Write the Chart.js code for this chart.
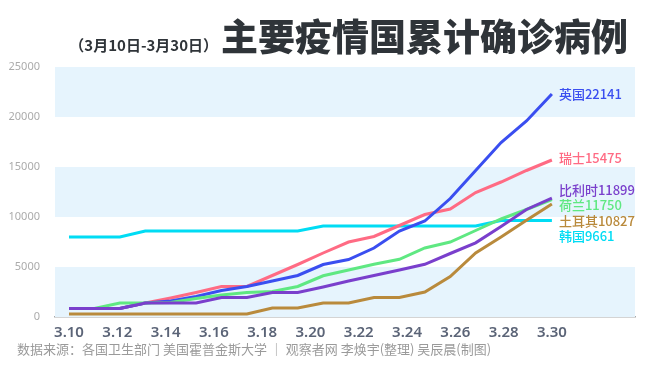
<!DOCTYPE html>
<html><head><meta charset="utf-8">
<script src="https://cdn.jsdelivr.net/npm/chart.js@4/dist/chart.umd.min.js"></script>
<style>
html,body{margin:0;padding:0;background:#fff;}
#wrap{position:relative;width:650px;height:370px;overflow:hidden;font-family:"Noto Sans CJK SC","Noto Sans",sans-serif;}
#c{position:absolute;left:0;top:0;}
#title{position:absolute;left:221px;top:11px;font-size:37px;font-weight:900;color:#2f3439;line-height:48px;white-space:nowrap;}
#sub{position:absolute;right:432px;top:34px;font-size:15px;font-weight:700;color:#2f3439;line-height:22px;white-space:nowrap;}
#src{position:absolute;left:17px;top:340px;font-size:13px;color:#9a9a9a;line-height:18px;white-space:nowrap;}
</style></head><body>
<div id="wrap"><canvas id="c" width="650" height="370"></canvas>
<div id="sub">（3月10日-3月30日）</div>
<div id="title">主要疫情国累计确诊病例</div>
<div id="src">数据来源：各国卫生部门 美国霍普金斯大学 ｜ 观察者网 李焕宇(整理) 吴辰晨(制图)</div>
</div>
<script>
// ---- data ----
const tickLabels = ["3.10","3.12","3.14","3.16","3.18","3.20","3.22","3.24","3.26","3.28","3.30"];
const countries = ["比利时","荷兰","英国","瑞士","土耳其","韩国"];
const endValues = [11899, 11750, 22141, 15475, 10827, 9661];
const belgium     = [850,850,850,1400,1400,1400,1950,1950,2450,2450,3000,3600,4150,4700,5270,6350,7420,9050,10750,11899];
const netherlands = [850,850,1400,1400,1450,1850,2200,2450,2550,3050,4120,4700,5270,5770,6900,7500,8650,9800,10750,11750];
const uk          = [850,850,850,1400,1600,2050,2650,3050,3600,4150,5250,5750,6900,8600,9600,11850,14650,17450,19600,22300];
const swiss       = [850,850,850,1400,1900,2450,3050,3050,4150,5250,6400,7500,8050,9150,10250,10800,12450,13500,14650,15700];
const turkey      = [300,300,300,300,300,300,300,300,900,900,1400,1400,1950,1950,2500,4050,6400,8000,9670,11300];
const korea       = [8000,8000,8000,8600,8600,8600,8600,8600,8600,8600,9100,9100,9100,9100,9100,9100,9100,9650,9650,9661];
const yTicks = [0,5000,10000,15000,20000,25000];

// ---- styles ----
const seriesList = [belgium, netherlands, uk, swiss, turkey, korea];
const colors = ["#7a3fcc","#5fe882","#3a4ef0","#ff6b84","#b98a3c","#00dcf4"];
const labelDy = [-8, 6, 0, -2, 17, 16];
const bandRanges = [[0,5000],[10000,15000],[20000,25000]];

const datasets = seriesList.map((arr, k) => ({
  label: countries[k],
  data: arr.map((v, i) => ({x: i, y: v})),
  borderColor: colors[k],
  backgroundColor: colors[k],
  borderWidth: 3,
  pointRadius: 0,
  tension: 0,
  fill: false
}));

const bands = {
  id: 'bands',
  beforeDatasetsDraw(chart) {
    const {ctx, chartArea: a, scales: {y}} = chart;
    ctx.save();
    ctx.fillStyle = '#e6f4fd';
    bandRanges.forEach(([lo, hi]) => {
      const y1 = y.getPixelForValue(hi), y2 = y.getPixelForValue(lo);
      ctx.fillRect(a.left, y1, a.right - a.left, y2 - y1);
    });
    ctx.restore();
  }
};

const endLabels = {
  id: 'endLabels',
  afterDatasetsDraw(chart) {
    const ctx = chart.ctx;
    ctx.save();
    ctx.font = '500 13px "Noto Sans CJK SC"';
    ctx.textBaseline = 'middle';
    ctx.textAlign = 'left';
    chart.data.datasets.forEach((ds, k) => {
      const meta = chart.getDatasetMeta(k);
      const p = meta.data[meta.data.length - 1];
      ctx.fillStyle = colors[k];
      ctx.fillText(countries[k] + endValues[k], p.x + 7, p.y + labelDy[k]);
    });
    ctx.restore();
  }
};

new Chart(document.getElementById('c'), {
  type: 'line',
  data: { datasets },
  plugins: [bands, endLabels],
  options: {
    responsive: false,
    animation: false,
    layout: { padding: { top: 67, right: 15, left: 0, bottom: 0 } },
    plugins: { legend: { display: false }, tooltip: { enabled: false } },
    scales: {
      x: {
        type: 'linear',
        min: -0.551,
        max: 22.27,
        afterBuildTicks(scale) {
          scale.ticks = tickLabels.map((_, k) => ({ value: k * (uk.length - 1) / (tickLabels.length - 1) }));
        },
        afterFit(scale) { scale.height = 53; },
        grid: { display: false },
        border: { display: true, color: '#a9a9a9', width: 1.5 },
        ticks: {
          autoSkip: false,
          maxRotation: 0,
          padding: -1,
          color: '#5b6477',
          font: { family: '"Noto Sans", sans-serif', size: 15, weight: '600' },
          callback: (v, idx) => tickLabels[idx]
        }
      },
      y: {
        min: 0,
        max: 25000,
        afterBuildTicks(scale) { scale.ticks = yTicks.map(v => ({ value: v })); },
        afterFit(scale) { scale.width = 55; },
        grid: { display: false },
        border: { display: false },
        ticks: {
          padding: 7,
          color: '#ababab',
          font: { family: '"Noto Sans", sans-serif', size: 11 },
          callback: v => String(v)
        }
      }
    }
  }
});
</script>
</body></html>
